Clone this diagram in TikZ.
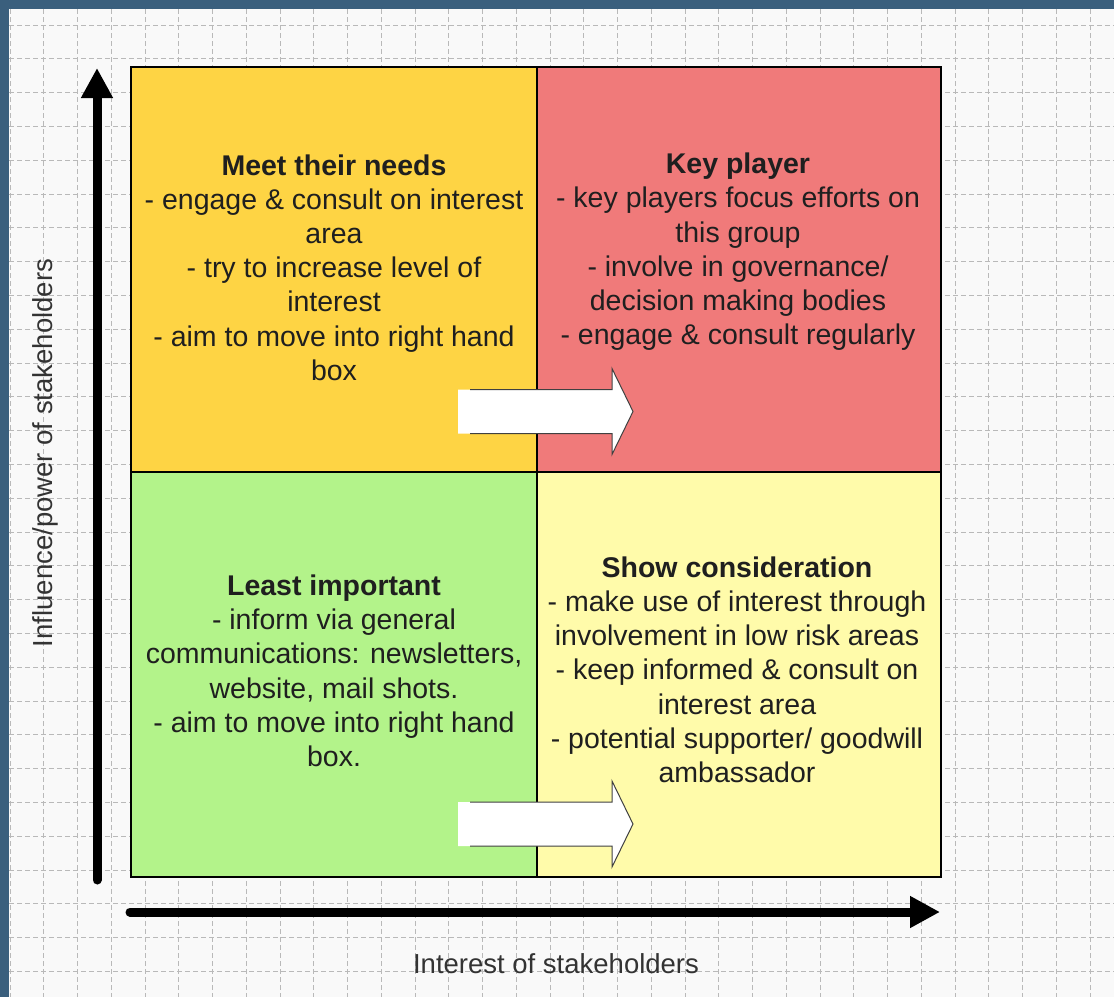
\documentclass[tikz,border=0pt]{standalone}
\usepackage{fontspec}
\setmainfont{Liberation Sans}
\usetikzlibrary{arrows.meta}
\definecolor{frameblue}{RGB}{58,95,125}
\definecolor{pagebg}{RGB}{249,249,249}
\definecolor{gridgray}{RGB}{185,185,185}
\definecolor{meetyellow}{RGB}{254,212,68}
\definecolor{keyred}{RGB}{240,122,122}
\definecolor{leastgreen}{RGB}{179,243,138}
\definecolor{showyellow}{RGB}{255,251,170}

\tikzset{
  quadtext/.style={align=center, inner sep=0pt, text=black!88,
    font=\fontsize{28.5}{34.2}\selectfont},
  axislabel/.style={inner sep=0pt, text=black!80, font=\fontsize{27.5}{32}\selectfont},
  axisline/.style={line width=9pt, line cap=round, -{Triangle[length=30pt,width=30pt]}},
  movearrow/.style={draw=black!75, line width=1pt, line join=miter},
  gridline/.style={gridgray, line width=0.8pt, dash pattern=on 5pt off 3pt},
}

\begin{document}
\begin{tikzpicture}[x=1pt, y=-1pt]
  \useasboundingbox (0,0) rectangle (1114,997);

  % Draw page background and frame
  \fill[pagebg] (0,0) rectangle (1114,997);
  \foreach \i in {0,...,32}
    \draw[gridline] ({10+33.75*\i},9) -- ({10+33.75*\i},997);
  \foreach \j in {0,...,28}
    \draw[gridline] (9,{25+33.8*\j}) -- (1114,{25+33.8*\j});
  \fill[frameblue] (0,0) rectangle (1114,9);
  \fill[frameblue] (0,0) rectangle (9,997);

  % Draw the four quadrants
  \fill[meetyellow] (131,67) rectangle (537,472);
  \fill[keyred] (537,67) rectangle (941,472);
  \fill[leastgreen] (131,472) rectangle (537,877);
  \fill[showyellow] (537,472) rectangle (941,877);
  \draw[line width=1.2pt] (537,67) -- (537,877);
  \draw[line width=1.2pt] (131,472) -- (941,472);
  \draw[line width=2pt] (131,67) rectangle (941,877);

  % Draw the move arrows
  \foreach \yc in {411.5,824} {
    \fill[white] (458,\yc-22) -- (612,\yc-22) -- (612,\yc-43) -- (633,\yc)
      -- (612,\yc+43) -- (612,\yc+22) -- (458,\yc+22) -- cycle;
    \draw[movearrow] (470,\yc-22) -- (612,\yc-22) -- (612,\yc-43) -- (633,\yc)
      -- (612,\yc+43) -- (612,\yc+22) -- (470,\yc+22);
  }

  % Quadrant texts
  \node[quadtext] (meetneeds) at (334,267.6)
    {\textbf{Meet their needs}\\- engage \& consult on interest\\area\\- try to increase level of\\interest\\- aim to move into right hand\\box};
  \node[quadtext] (keyplayer) at (738,251.8)
    {\textbf{Key player}\\- key players focus efforts on\\this group\\- involve in governance/\\decision making bodies\\- engage \& consult regularly};
  \node[quadtext] (leastimp) at (334,670.8)
    {\textbf{Least important}\\- inform via general\\communications: newsletters,\\website, mail shots.\\- aim to move into right hand\\box.};
  \node[quadtext] (showcons) at (737,669.6)
    {\textbf{Show consideration}\\- make use of interest through\\involvement in low risk areas\\- keep informed \& consult on\\interest area\\- potential supporter/ goodwill\\ambassador};

  % Draw axes
  \coordinate (yaxis start) at (97,880);
  \coordinate (yaxis end) at (97,68);
  \coordinate (xaxis start) at (130,912);
  \coordinate (xaxis end) at (940,912);
  \draw[axisline] (yaxis start) -- (yaxis end);
  \draw[axisline] (xaxis start) -- (xaxis end);
  \node[axislabel, rotate=90] (powerlabel) at (45,453) {Influence/power of stakeholders};
  \node[axislabel] (interestlabel) at (556,964) {Interest of stakeholders};
\end{tikzpicture}
\end{document}
